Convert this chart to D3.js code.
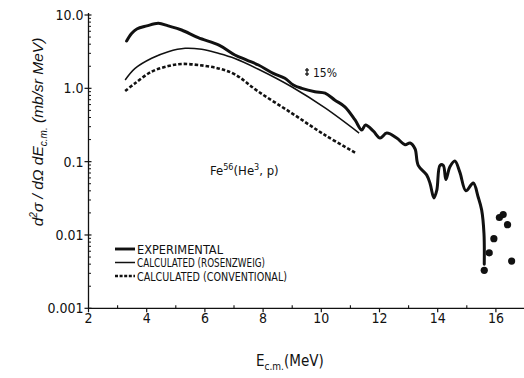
<!DOCTYPE html>
<html>
<head>
<meta charset="utf-8">
<script src="https://cdn.jsdelivr.net/npm/d3@7"></script>
<style>
  html, body { margin: 0; padding: 0; background: #fff; }
  svg { display: block; }
  text { fill: #111; }
</style>
</head>
<body>
<svg id="chart" width="524" height="378"></svg>
<script>
// Fe56(He3,p) proton spectrum: measured vs. calculated cross sections
const expEnergy = [3.31, 3.48, 3.66, 4.0, 4.4, 4.74, 5.2, 5.77, 6.5, 7.03, 7.44, 7.84, 8.35, 8.75, 9.04, 9.33, 9.78, 10.13, 10.47, 10.81, 11.16, 11.39, 11.52, 11.79, 12.02, 12.25, 12.59, 12.88, 13.05, 13.22, 13.33, 13.62, 13.74, 13.87, 13.97, 14.08, 14.19, 14.28, 14.42, 14.59, 14.76, 14.97, 15.22, 15.39, 15.51, 15.59, 15.6];
const expValue  = [4.42, 5.6, 6.45, 7.1, 7.7, 7.1, 6.24, 4.9, 3.85, 2.85, 2.43, 2.08, 1.6, 1.37, 1.11, 1.0, 0.9, 0.86, 0.69, 0.56, 0.37, 0.27, 0.316, 0.26, 0.21, 0.245, 0.21, 0.17, 0.18, 0.15, 0.089, 0.066, 0.05, 0.032, 0.041, 0.089, 0.089, 0.057, 0.085, 0.102, 0.072, 0.040, 0.051, 0.033, 0.022, 0.0105, 0.004];

const rosEnergy = [3.26, 3.6, 4.17, 4.74, 5.32, 5.89, 6.46, 7.03, 7.84, 8.98, 10.13, 11.3];
const rosValue  = [1.30, 1.87, 2.57, 3.16, 3.52, 3.4, 3.0, 2.55, 1.82, 1.05, 0.54, 0.245];

const convEnergy = [3.26, 3.6, 4.17, 4.74, 5.2, 5.77, 6.46, 7.03, 7.84, 8.98, 10.13, 11.2];
const convValue  = [0.92, 1.17, 1.69, 2.01, 2.15, 2.08, 1.87, 1.55, 0.9, 0.46, 0.23, 0.13];

const dotEnergy = [15.6, 15.77, 15.93, 16.12, 16.25, 16.40, 16.54];
const dotValue  = [0.0033, 0.0057, 0.0089, 0.0173, 0.019, 0.0138, 0.0044];

const xTicks = [2, 4, 6, 8, 10, 12, 14, 16];
const xMinorTicks = [3, 5, 7, 9, 11, 13, 15];
const yTicks = [0.001, 0.01, 0.1, 1, 10];
const yTickLabels = ["0.001", "0.01", "0.1", "1.0", "10.0"];

const legendLabels = ["EXPERIMENTAL", "CALCULATED (ROSENZWEIG)", "CALCULATED (CONVENTIONAL)"];

const svg = d3.select("#chart");
const ink = "#111";

const x = d3.scaleLinear().domain([2, 17]).range([88.5, 525]);
const y = d3.scaleLog().domain([0.001, 10]).range([308.3, 15]);

const tickFont = "'Liberation Sans Narrow','DejaVu Sans Condensed','Liberation Sans',sans-serif";

// axes lines
svg.append("line").attr("x1", x(2)).attr("x2", 524).attr("y1", y(0.001)).attr("y2", y(0.001))
  .attr("stroke", ink).attr("stroke-width", 1.3);
svg.append("line").attr("x1", x(2)).attr("x2", x(2)).attr("y1", y(0.001)).attr("y2", y(10) - 2)
  .attr("stroke", ink).attr("stroke-width", 1.3);

// x ticks
svg.selectAll(".xmaj").data(xTicks).join("line")
  .attr("x1", d => x(d)).attr("x2", d => x(d))
  .attr("y1", y(0.001)).attr("y2", y(0.001) + 4)
  .attr("stroke", ink).attr("stroke-width", 1.2);
svg.selectAll(".xmin").data(xMinorTicks).join("line")
  .attr("x1", d => x(d)).attr("x2", d => x(d))
  .attr("y1", y(0.001)).attr("y2", y(0.001) - 3)
  .attr("stroke", ink).attr("stroke-width", 1.1);
svg.selectAll(".xlab").data(xTicks).join("text")
  .attr("x", d => x(d)).attr("y", 323)
  .attr("text-anchor", "middle")
  .style("font-family", tickFont).style("font-size", "14px")
  .text(d => d);

// y ticks (log decades with minor ticks)
const yMinor = [];
for (let dec = 0.001; dec < 10; dec *= 10) {
  for (let m = 2; m <= 9; m++) yMinor.push(+(dec * m).toPrecision(3));
}
svg.selectAll(".ymin").data(yMinor).join("line")
  .attr("x1", x(2)).attr("x2", x(2) + 2.5)
  .attr("y1", d => y(d)).attr("y2", d => y(d))
  .attr("stroke", ink).attr("stroke-width", 1);
svg.selectAll(".ymaj").data(yTicks).join("line")
  .attr("x1", x(2) - 4).attr("x2", x(2) + 3)
  .attr("y1", d => y(d)).attr("y2", d => y(d))
  .attr("stroke", ink).attr("stroke-width", 1.2);
svg.selectAll(".ylab").data(yTicks).join("text")
  .attr("x", x(2) - 5).attr("y", d => y(d) + 5)
  .attr("text-anchor", "end")
  .style("font-family", tickFont).style("font-size", "14px")
  .text((d, i) => yTickLabels[i]);

// curves
const line = d3.line().x(d => x(d[0])).y(d => y(d[1])).curve(d3.curveCatmullRom.alpha(0.5));
const zip = (a, b) => a.map((v, i) => [v, b[i]]);

svg.append("path").datum(zip(convEnergy, convValue)).attr("d", line)
  .attr("fill", "none").attr("stroke", ink).attr("stroke-width", 2.6)
  .attr("stroke-dasharray", "3.5,2");
svg.append("path").datum(zip(rosEnergy, rosValue)).attr("d", line)
  .attr("fill", "none").attr("stroke", ink).attr("stroke-width", 1.5);
svg.append("path").datum(zip(expEnergy, expValue)).attr("d", line)
  .attr("fill", "none").attr("stroke", ink).attr("stroke-width", 3)
  .attr("stroke-linejoin", "round").attr("stroke-linecap", "round");

svg.selectAll(".dot").data(zip(dotEnergy, dotValue)).join("circle")
  .attr("cx", d => x(d[0])).attr("cy", d => y(d[1])).attr("r", 3.6)
  .attr("fill", ink);

// error marker
const ebx = 307, eby = 72;
svg.append("line").attr("x1", ebx).attr("x2", ebx).attr("y1", eby - 4).attr("y2", eby + 4)
  .attr("stroke", ink).attr("stroke-width", 1.3);
[eby - 2, eby + 2].forEach(v => svg.append("line")
  .attr("x1", ebx - 2).attr("x2", ebx + 2).attr("y1", v).attr("y2", v)
  .attr("stroke", ink).attr("stroke-width", 1.2));
svg.append("text").attr("x", 313).attr("y", 76.5)
  .style("font-family", tickFont).style("font-size", "12px").text("15%");

// reaction label
const rx = svg.append("text").attr("x", 210).attr("y", 175)
  .style("font-family", tickFont).style("font-size", "13px");
rx.append("tspan").text("Fe");
rx.append("tspan").attr("dy", -5).style("font-size", "9px").text("56");
rx.append("tspan").attr("dy", 5).text("(He");
rx.append("tspan").attr("dy", -5).style("font-size", "9px").text("3");
rx.append("tspan").attr("dy", 5).text(", p)");

// legend
const legendY = [249, 262.5, 276];
const legendWidths = [2.9, 1.5, 2.4];
const legendDash = [null, null, "3,1.6"];
const legendTextLen = [86, 128, 150];
legendLabels.forEach((lab, i) => {
  svg.append("line").attr("x1", 115).attr("x2", 135)
    .attr("y1", legendY[i]).attr("y2", legendY[i])
    .attr("stroke", ink).attr("stroke-width", legendWidths[i])
    .attr("stroke-dasharray", legendDash[i]);
  svg.append("text").attr("x", 137).attr("y", legendY[i] + 4.5)
    .attr("textLength", legendTextLen[i]).attr("lengthAdjust", "spacingAndGlyphs")
    .style("font-family", tickFont).style("font-size", "11.5px").text(lab);
});

// y axis title
const yt = svg.append("text")
  .attr("transform", "translate(43,132) rotate(-90)")
  .attr("text-anchor", "middle")
  .style("font-family", "'Liberation Sans','DejaVu Sans',sans-serif")
  .style("font-style", "italic").style("font-size", "15.5px");
yt.append("tspan").text("d");
yt.append("tspan").attr("dy", -6).style("font-size", "10px").text("2");
yt.append("tspan").attr("dy", 6).text("σ / dΩ dE");
yt.append("tspan").attr("dy", 4).style("font-size", "10px").text("c.m.");
yt.append("tspan").attr("dy", -4).text(" (mb/sr MeV)");

// x axis title
const xt = svg.append("text").attr("x", 256).attr("y", 366)
  .style("font-family", tickFont).style("font-size", "15px");
xt.append("tspan").text("E");
xt.append("tspan").attr("dy", 4).style("font-size", "10px").text("c.m.");
xt.append("tspan").attr("dy", -4).text("(MeV)");
</script>
</body>
</html>
